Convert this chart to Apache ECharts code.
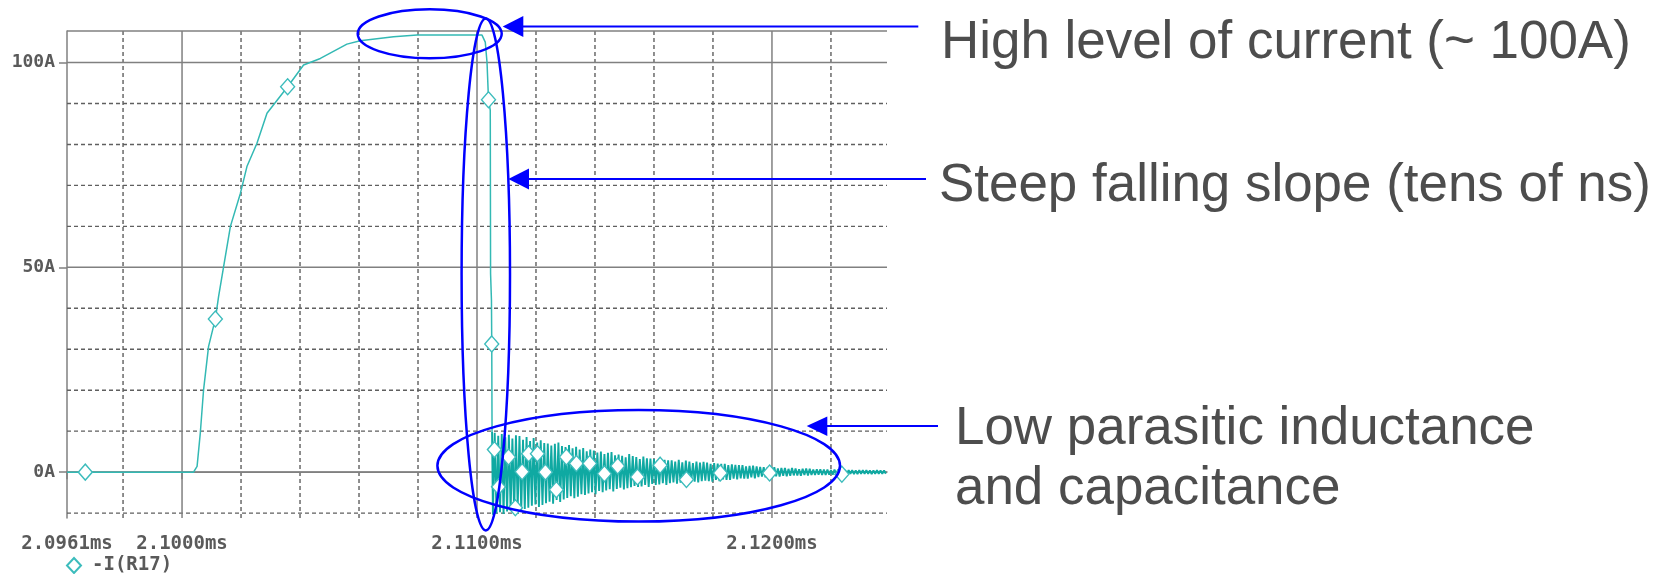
<!DOCTYPE html>
<html>
<head>
<meta charset="utf-8">
<script src="https://cdn.jsdelivr.net/npm/echarts@6/dist/echarts.min.js"></script>
<style>
html,body{margin:0;padding:0;background:#fff;}
#c{width:1673px;height:574px;}
</style>
</head>
<body>
<div id="c"></div>
<script>
// ---- data (time in ms, current in A) ----
const riseTimes = [2.0961, 2.10039, 2.10051, 2.10062, 2.10073, 2.10090, 2.10113, 2.10124, 2.10141, 2.10164,
  2.10198, 2.10220, 2.10254, 2.10288, 2.10358, 2.10412, 2.10469, 2.10559, 2.10604, 2.10717,
  2.10797, 2.11017, 2.11028, 2.11034, 2.11039, 2.11045, 2.11046, 2.11049, 2.11050, 2.11051];
const riseValues = [0, 0, 1.4, 9.6, 20.1, 30.7, 37.4, 42.9, 50.2, 60.0,
  68.1, 74.6, 80.3, 87.6, 94.1, 99.4, 101.0, 104.5, 105.3, 106.3,
  106.7, 106.7, 105.0, 100.0, 90.9, 88.3, 48.5, 42.0, 31.3, 9.8];

const ringTimes = [
  2.11054, 2.11060, 2.11066, 2.11072, 2.11078, 2.11084, 2.11090, 2.11096, 2.11102, 2.11108,
  2.11114, 2.11120, 2.11126, 2.11132, 2.11138, 2.11144, 2.11150, 2.11156, 2.11162, 2.11168,
  2.11174, 2.11180, 2.11186, 2.11192, 2.11198, 2.11204, 2.11210, 2.11216, 2.11222, 2.11228,
  2.11234, 2.11240, 2.11246, 2.11252, 2.11258, 2.11264, 2.11270, 2.11276, 2.11282, 2.11288,
  2.11294, 2.11300, 2.11306, 2.11312, 2.11318, 2.11324, 2.11330, 2.11336, 2.11342, 2.11348,
  2.11354, 2.11360, 2.11366, 2.11372, 2.11378, 2.11384, 2.11390, 2.11396, 2.11402, 2.11408,
  2.11414, 2.11420, 2.11426, 2.11432, 2.11438, 2.11444, 2.11450, 2.11456, 2.11462, 2.11468,
  2.11474, 2.11480, 2.11486, 2.11492, 2.11498, 2.11504, 2.11510, 2.11516, 2.11522, 2.11528,
  2.11534, 2.11540, 2.11546, 2.11552, 2.11558, 2.11564, 2.11570, 2.11576, 2.11582, 2.11588,
  2.11594, 2.11600, 2.11606, 2.11612, 2.11618, 2.11624, 2.11630, 2.11636, 2.11642, 2.11648,
  2.11654, 2.11660, 2.11666, 2.11672, 2.11678, 2.11684, 2.11690, 2.11696, 2.11702, 2.11708,
  2.11714, 2.11720, 2.11726, 2.11732, 2.11738, 2.11744, 2.11750, 2.11756, 2.11762, 2.11768,
  2.11774, 2.11780, 2.11786, 2.11792, 2.11798, 2.11804, 2.11810, 2.11816, 2.11822, 2.11828,
  2.11834, 2.11840, 2.11846, 2.11852, 2.11858, 2.11864, 2.11870, 2.11876, 2.11882, 2.11888,
  2.11894, 2.11900, 2.11906, 2.11912, 2.11918, 2.11924, 2.11930, 2.11936, 2.11942, 2.11948,
  2.11954, 2.11960, 2.11966, 2.11972, 2.11978, 2.11984, 2.11990, 2.11996, 2.12002, 2.12008,
  2.12014, 2.12020, 2.12026, 2.12032, 2.12038, 2.12044, 2.12050, 2.12056, 2.12062, 2.12068,
  2.12074, 2.12080, 2.12086, 2.12092, 2.12098, 2.12104, 2.12110, 2.12116, 2.12122, 2.12128,
  2.12134, 2.12140, 2.12146, 2.12152, 2.12158, 2.12164, 2.12170, 2.12176, 2.12182, 2.12188,
  2.12194, 2.12200, 2.12206, 2.12212, 2.12218, 2.12224, 2.12230, 2.12236, 2.12242, 2.12248,
  2.12254, 2.12260, 2.12266, 2.12272, 2.12278, 2.12284, 2.12290, 2.12296, 2.12302, 2.12308,
  2.12314, 2.12320, 2.12326, 2.12332, 2.12338, 2.12344, 2.12350, 2.12356, 2.12362, 2.12368,
  2.12374, 2.12380, 2.12386];
const ringValues = [
  -10.4, 9.6, -10.1, 8.9, -9.8, 9.3, -10.2, 8.5, -9.6, 9.1,
  -9.4, 8.2, -9.7, 9.0, -8.6, 8.8, -9.3, 7.9, -9.0, 8.6,
  -8.7, 7.6, -8.2, 8.3, -7.9, 7.2, -8.5, 7.8, -8.0, 7.1,
  -7.6, 7.0, -7.2, 6.5, -7.7, 6.9, -6.8, 7.2, -7.3, 6.4,
  -6.7, 6.1, -6.3, 6.6, -5.9, 5.8, -6.4, 6.2, -6.0, 5.5,
  -5.4, 5.9, -5.6, 5.1, -5.2, 5.5, -4.9, 5.3, -5.4, 4.8,
  -4.6, 5.0, -4.9, 4.4, -4.5, 4.7, -4.2, 4.9, -4.7, 4.1,
  -4.1, 4.3, -3.8, 4.0, -4.2, 3.6, -3.9, 4.4, -3.7, 3.9,
  -3.4, 3.7, -3.6, 3.2, -3.5, 3.8, -3.1, 3.4, -3.6, 3.3,
  -2.9, 3.2, -3.1, 2.8, -3.0, 3.3, -2.7, 3.0, -3.1, 2.9,
  -2.7, 2.9, -2.5, 2.6, -2.8, 3.0, -2.6, 2.4, -2.7, 2.8,
  -2.4, 2.6, -2.5, 2.2, -2.3, 2.6, -2.5, 2.3, -2.2, 2.5,
  -2.1, 2.3, -2.2, 2.0, -2.3, 2.2, -1.9, 2.1, -2.2, 2.0,
  -1.8, 2.0, -1.9, 1.7, -1.9, 1.9, -1.6, 1.8, -1.8, 1.7,
  -1.5, 1.7, -1.6, 1.4, -1.6, 1.5, -1.3, 1.6, -1.5, 1.4,
  -1.2, 1.3, -1.1, 1.2, -1.3, 1.1, -1.2, 1.3, -1.1, 1.2,
  -1.0, 0.9, -1.1, 1.0, -0.9, 1.0, -1.0, 0.8, -0.9, 1.0,
  -0.8, 0.9, -0.8, 0.7, -0.9, 0.8, -0.7, 0.9, -0.8, 0.8,
  -0.7, 0.6, -0.7, 0.7, -0.6, 0.7, -0.7, 0.6, -0.7, 0.6,
  -0.6, 0.5, -0.6, 0.6, -0.5, 0.6, -0.6, 0.5, -0.6, 0.5,
  -0.5, 0.5, -0.4, 0.5, -0.5, 0.4, -0.5, 0.5, -0.4, 0.5,
  -0.4, 0.5, -0.4, 0.4, -0.5, 0.4, -0.4, 0.5, -0.4, 0.4,
  -0.4, 0.4, -0.4];

const markerTimes = [2.09672, 2.10113, 2.10358, 2.11039, 2.11050, 2.11059, 2.11073, 2.11107, 2.11130, 2.11153,
  2.11175, 2.11205, 2.11232, 2.11269, 2.11303, 2.11337, 2.11382, 2.11432, 2.11477, 2.11544,
  2.11621, 2.11710, 2.11825, 2.11992, 2.12237];
const markerValues = [0, 37.4, 94.1, 90.9, 31.3, 5.5, -3.6, 3.7, -8.7, 0.1,
  4.5, 4.5, 0, -4.3, 3.7, 2.1, 2.1, -0.4, 1.5, -1.2,
  1.7, -1.8, -0.2, -0.2, -0.5];

const seriesName = '-I(R17)';
const xLabelTicks = [2.0961, 2.1, 2.11, 2.12];
const xMajorGrid = [2.10, 2.11, 2.12];
const xMinorGrid = [2.098, 2.102, 2.104, 2.106, 2.108, 2.112, 2.114, 2.116, 2.118, 2.122];
const yLabelTicks = [0, 50, 100];
const yMajorGrid = [0, 50, 100];
const yMinorGrid = [-10, 10, 20, 30, 40, 60, 70, 80, 90];
const xMin = 2.0961, xMax = 2.1239, yMin = -11.2, yMax = 107.7;

const notes = [
  {text: 'High level of current (~ 100A)', x: 941, y: 43.5},
  {text: 'Steep falling slope (tens of ns)', x: 939, y: 186},
  {text: 'Low parasitic inductance', x: 955, y: 429},
  {text: 'and capacitance', x: 955, y: 489.5}
];

// ---- build ----
const riseData = riseTimes.map((t, i) => [t, riseValues[i]]);
const ringData = [riseData[riseData.length - 1]].concat(ringTimes.map((t, i) => [t, ringValues[i]]));
const markerData = markerTimes.map((t, i) => [t, markerValues[i]]);

const SOLID = {color: '#808080', width: 1.5, type: 'solid'};
const DASH = {color: '#5f5f5f', width: 1.4, type: [4, 3]};
const MONO = '"DejaVu Sans Mono", monospace';
const LABEL_COLOR = '#5a5a5a';

function gridSeries(points, style, z) {
  return {type: 'line', data: points, symbol: 'none', showSymbol: false, silent: true, clip: false,
    z: z, lineStyle: style, animation: false, tooltip: {show: false}};
}
const gridSeriesList = []
  .concat(xMinorGrid.map(v => gridSeries([[v, yMin], [v, yMax]], DASH, 1)))
  .concat(yMinorGrid.map(v => gridSeries([[xMin, v], [xMax, v]], DASH, 1)))
  .concat(xMajorGrid.map(v => gridSeries([[v, yMin], [v, yMax]], SOLID, 2)))
  .concat(yMajorGrid.map(v => gridSeries([[xMin, v], [xMax, v]], SOLID, 2)))
  .concat([gridSeries([[xMin, yMax], [xMax, yMax]], SOLID, 2)]);

const BLUE = '#0000ff';
const graphics = [
  {type: 'ellipse', shape: {cx: 429.7, cy: 33.8, rx: 72, ry: 24.5}, style: {fill: 'none', stroke: BLUE, lineWidth: 2.5}, z: 100},
  {type: 'ellipse', shape: {cx: 485.8, cy: 274.4, rx: 24.2, ry: 256}, style: {fill: 'none', stroke: BLUE, lineWidth: 2.5}, z: 100},
  {type: 'ellipse', shape: {cx: 638.7, cy: 465.8, rx: 201.3, ry: 55.8}, style: {fill: 'none', stroke: BLUE, lineWidth: 2.5}, z: 100},
  {type: 'line', shape: {x1: 522, y1: 26.5, x2: 918.3, y2: 26.5}, style: {stroke: BLUE, lineWidth: 2}, z: 100},
  {type: 'polygon', shape: {points: [[502.7, 26.5], [523.3, 16], [523.3, 37]]}, style: {fill: BLUE}, z: 100},
  {type: 'line', shape: {x1: 528, y1: 179, x2: 926, y2: 179}, style: {stroke: BLUE, lineWidth: 2}, z: 100},
  {type: 'polygon', shape: {points: [[508.3, 179], [529, 168.5], [529, 189.5]]}, style: {fill: BLUE}, z: 100},
  {type: 'line', shape: {x1: 826, y1: 426, x2: 938, y2: 426}, style: {stroke: BLUE, lineWidth: 2}, z: 100},
  {type: 'polygon', shape: {points: [[806.7, 426], [827.3, 416.5], [827.3, 436]]}, style: {fill: BLUE}, z: 100}
].concat(notes.map(n => ({
  type: 'text', x: n.x, y: n.y, scaleX: 0.98, z: 100,
  style: {text: n.text, font: '54px "Liberation Sans", Arial, sans-serif', fill: '#4d4d4d', verticalAlign: 'middle', align: 'left'}
})));

const chart = echarts.init(document.getElementById('c'), null, {renderer: 'canvas'});
chart.setOption({
  animation: false,
  backgroundColor: '#ffffff',
  grid: {left: 67, right: 786, top: 31, bottom: 56, show: false},
  legend: {
    left: 61, top: 551,
    data: [{name: seriesName, icon: 'diamond'}],
    itemWidth: 14, itemHeight: 15,
    textStyle: {fontFamily: MONO, fontWeight: 'bold', fontSize: 19, color: LABEL_COLOR, padding: [0, 0, 0, 6]}
  },
  xAxis: {
    type: 'value', min: xMin, max: xMax,
    axisLine: {show: true, lineStyle: {color: '#808080', width: 1.5}},
    axisTick: {show: true, length: 7, customValues: xLabelTicks, lineStyle: {color: '#808080', width: 1.5}},
    axisLabel: {customValues: xLabelTicks, margin: 17, formatter: v => v.toFixed(4) + 'ms',
      fontFamily: MONO, fontWeight: 'bold', fontSize: 19, color: LABEL_COLOR},
    splitLine: {show: false}
  },
  yAxis: {
    type: 'value', min: yMin, max: yMax,
    axisLine: {show: true, lineStyle: {color: '#808080', width: 1.5}},
    axisTick: {show: true, length: 8, customValues: yLabelTicks, lineStyle: {color: '#808080', width: 1.5}},
    axisLabel: {customValues: yLabelTicks, margin: 12, formatter: v => v + 'A',
      fontFamily: MONO, fontWeight: 'bold', fontSize: 18, color: LABEL_COLOR},
    splitLine: {show: false}
  },
  series: gridSeriesList.concat([
    {
      name: 'trace-rise', type: 'line', data: riseData, z: 5, showSymbol: false, symbol: 'none',
      lineStyle: {color: '#33b9b4', width: 1.5}, silent: true
    },
    {
      name: 'trace-ring', type: 'line', data: ringData, z: 5, showSymbol: false, symbol: 'none',
      lineStyle: {color: '#0fa9a2', width: 1.9}, silent: true
    },
    {
      name: seriesName, type: 'scatter', data: markerData, z: 6, symbol: 'diamond', symbolSize: [14, 16],
      itemStyle: {color: '#ffffff', borderColor: '#3cbcbc', borderWidth: 1.4, opacity: 1}
    }
  ]),
  graphic: graphics
});
</script>
</body>
</html>
